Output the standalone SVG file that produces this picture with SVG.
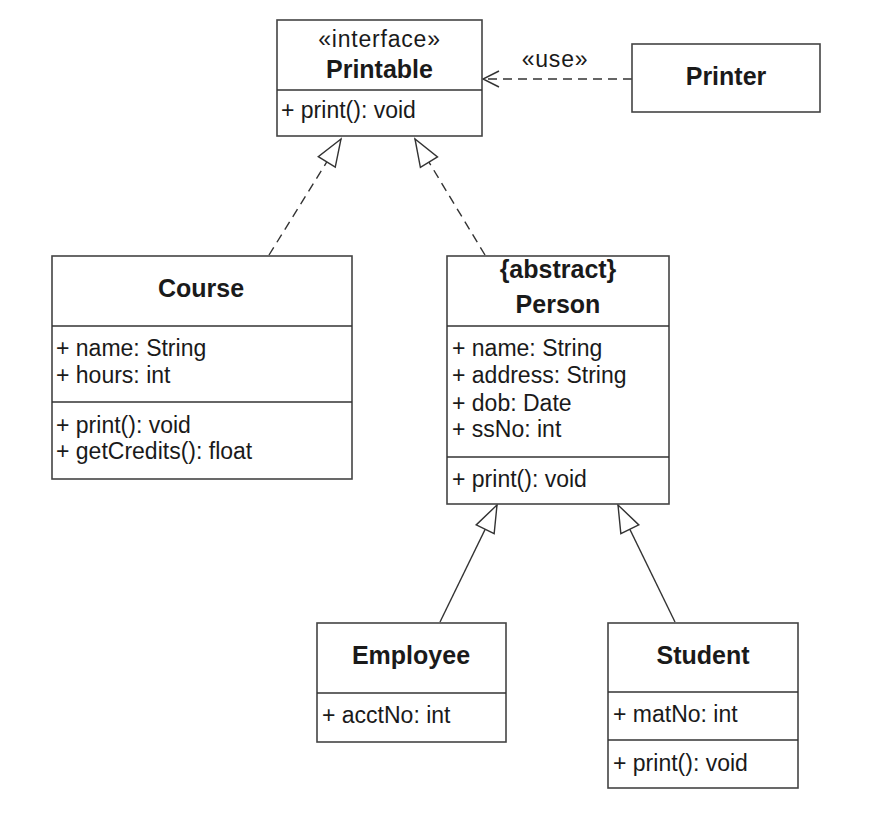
<svg xmlns="http://www.w3.org/2000/svg" width="878" height="826" viewBox="0 0 878 826">
<style>
.box{fill:#fff;stroke:#444;stroke-width:1.6}
.div{stroke:#333;stroke-width:1.4}
.t{font-family:"Liberation Sans",Arial,sans-serif;font-size:23px;fill:#1a1a1a}
.b{font-family:"Liberation Sans",Arial,sans-serif;font-size:25px;font-weight:bold;fill:#1a1a1a;text-anchor:middle}
.c{text-anchor:middle}
.g{letter-spacing:0.8px}
.con{fill:none;stroke:#333;stroke-width:1.4}
.dash{stroke-dasharray:9 6}
</style>
<defs>
<marker id="tri" markerUnits="userSpaceOnUse" markerWidth="30" markerHeight="24" refX="0" refY="0" orient="auto" overflow="visible">
<path d="M0,0 L-27,-10 L-27,10 Z" fill="#fff" stroke="#333" stroke-width="1.4"/>
</marker>
<marker id="open" markerUnits="userSpaceOnUse" markerWidth="20" markerHeight="20" refX="0" refY="0" orient="auto" overflow="visible">
<path d="M-16,-8 L0,0 L-16,8" fill="none" stroke="#333" stroke-width="1.4"/>
</marker>
</defs>
<rect width="878" height="826" fill="#fff"/>
<g id="connectors">
<line class="con dash" x1="269" y1="255" x2="341" y2="139" marker-end="url(#tri)"/>
<line class="con dash" x1="485" y1="255" x2="415" y2="139" marker-end="url(#tri)"/>
<line class="con" x1="440" y1="622" x2="497" y2="505" marker-end="url(#tri)"/>
<line class="con" x1="675" y1="622" x2="618" y2="505" marker-end="url(#tri)"/>
<line class="con dash" x1="632" y1="79" x2="483" y2="79" marker-end="url(#open)"/>
<text class="t c g" x="555" y="67">«use»</text>
</g>
<g id="printable">
<rect class="box" x="277" y="20" width="205" height="116"/>
<line class="div" x1="277" y1="90" x2="482" y2="90"/>
<text class="t c g" x="379.5" y="47">«interface»</text>
<text class="b" x="379.5" y="78">Printable</text>
<text class="t" x="281" y="118">+ print(): void</text>
</g>
<g id="printer">
<rect class="box" x="632" y="44" width="188" height="68"/>
<text class="b" x="726" y="85">Printer</text>
</g>
<g id="course">
<rect class="box" x="52" y="256" width="300" height="223"/>
<line class="div" x1="52" y1="326" x2="352" y2="326"/>
<line class="div" x1="52" y1="402" x2="352" y2="402"/>
<text class="b" x="201" y="297">Course</text>
<text class="t" x="56" y="356">+ name: String</text>
<text class="t" x="56" y="383">+ hours: int</text>
<text class="t" x="56" y="433">+ print(): void</text>
<text class="t" x="56" y="459">+ getCredits(): float</text>
</g>
<g id="person">
<rect class="box" x="447" y="256" width="222" height="248"/>
<line class="div" x1="447" y1="326" x2="669" y2="326"/>
<line class="div" x1="447" y1="457" x2="669" y2="457"/>
<text class="b" x="558" y="278">{abstract}</text>
<text class="b" x="558" y="313">Person</text>
<text class="t" x="452" y="356">+ name: String</text>
<text class="t" x="452" y="383">+ address: String</text>
<text class="t" x="452" y="411">+ dob: Date</text>
<text class="t" x="452" y="437">+ ssNo: int</text>
<text class="t" x="452" y="487">+ print(): void</text>
</g>
<g id="employee">
<rect class="box" x="317" y="623" width="189" height="119"/>
<line class="div" x1="317" y1="693" x2="506" y2="693"/>
<text class="b" x="411" y="664">Employee</text>
<text class="t" x="322" y="723">+ acctNo: int</text>
</g>
<g id="student">
<rect class="box" x="608" y="623" width="190" height="165"/>
<line class="div" x1="608" y1="692" x2="798" y2="692"/>
<line class="div" x1="608" y1="740" x2="798" y2="740"/>
<text class="b" x="703" y="664">Student</text>
<text class="t" x="613" y="722">+ matNo: int</text>
<text class="t" x="613" y="771">+ print(): void</text>
</g>
</svg>
